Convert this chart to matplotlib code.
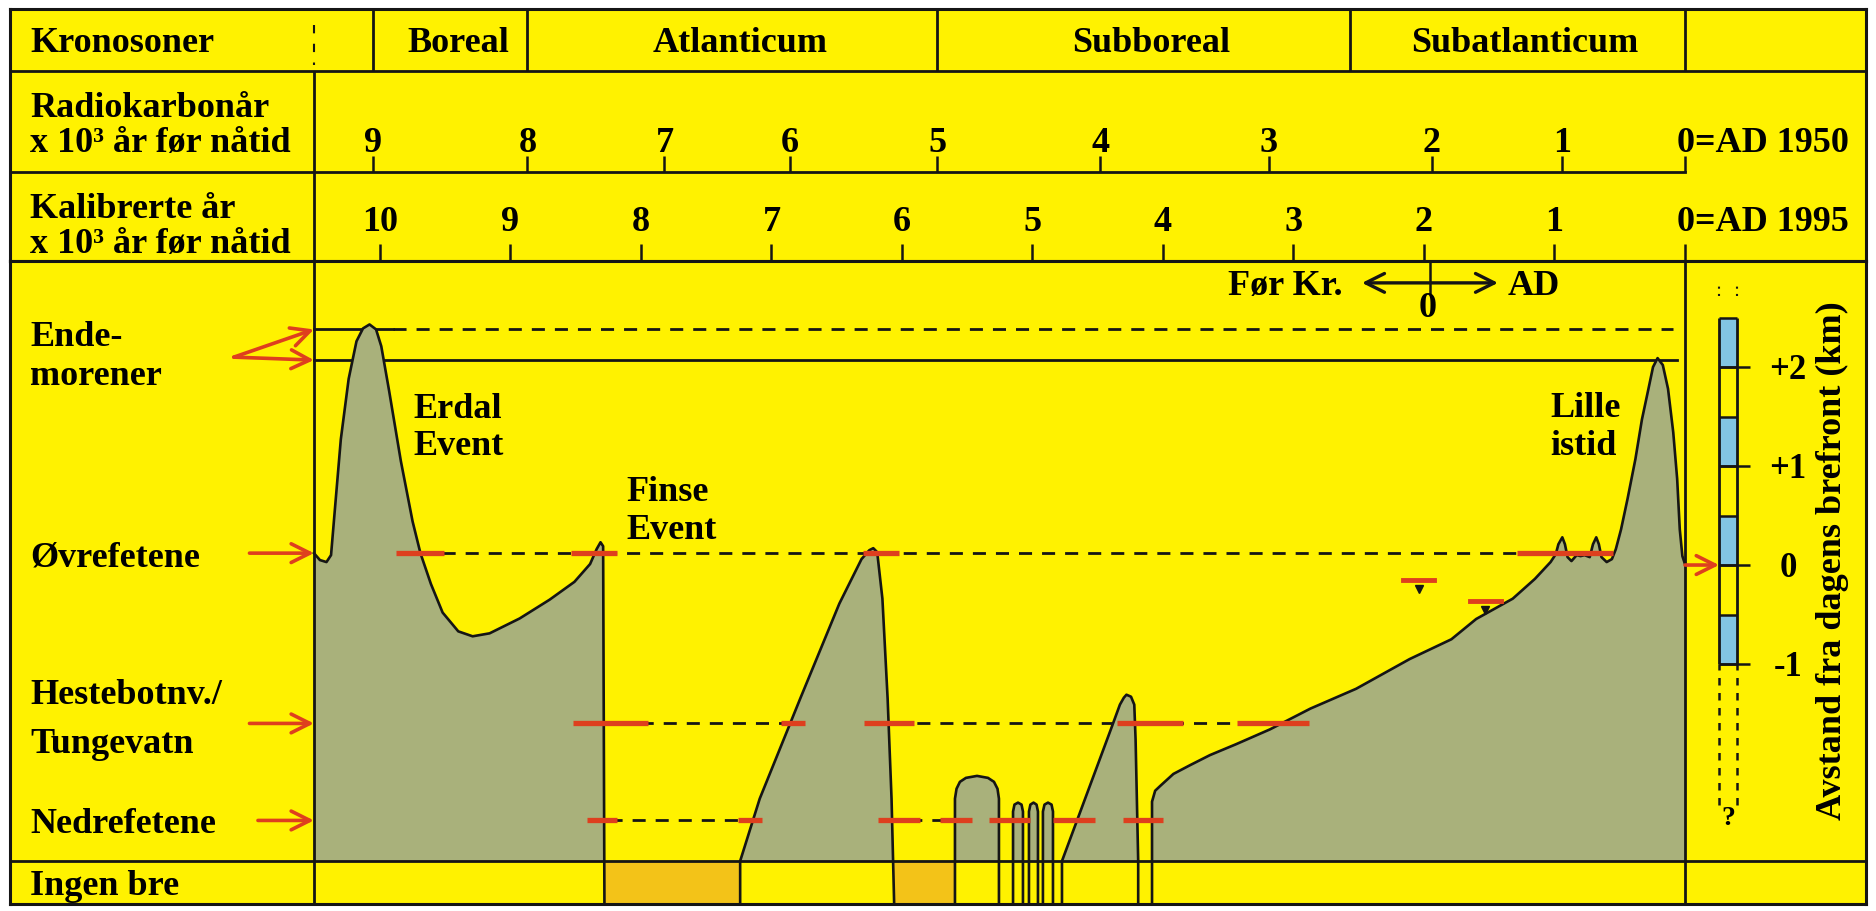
import matplotlib
matplotlib.use('Agg')
import matplotlib.pyplot as plt
import numpy as np

plt.rcParams['font.family'] = ['Liberation Serif', 'DejaVu Serif']
plt.rcParams['font.weight'] = 'bold'
plt.rcParams['font.size'] = 26

YELLOW = '#FFF200'
GLACIER = '#A9B17B'
ORANGE = '#F3C318'
RED = '#DE3F1E'
BLUE = '#82C5E3'
INK = '#151515'

# header: chronozones, radiocarbon ages and calibrated ages (x axis = cal ka BP)
zone_names = ['Boreal', 'Atlanticum', 'Subboreal', 'Subatlanticum']
zone_edges = [10.05, 8.87, 5.73, 2.57, 0.0]
rc_labels = ['9', '8', '7', '6', '5', '4', '3', '2', '1']
rc_on_cal = [10.05, 8.87, 7.82, 6.86, 5.73, 4.48, 3.19, 1.94, 0.94]
cal_ticks = [10, 9, 8, 7, 6, 5, 4, 3, 2, 1]

# reference levels, km relative to today's glacier front
ENDE_HI, ENDE_LO = 2.38, 2.07
OVRE, HESTE, NEDRE = 0.12, -1.60, -2.58

# glacier front through time, one outline per advance
erdal_t = [10.506, 10.46, 10.41, 10.375, 10.345, 10.30, 10.24, 10.18, 10.13, 10.08,
           10.03, 9.99, 9.93, 9.84, 9.75, 9.69, 9.61, 9.52, 9.40, 9.29, 9.16, 8.93,
           8.70, 8.51, 8.39, 8.34, 8.31, 8.29, 8.28]
erdal_km = [0.12, 0.05, 0.03, 0.10, 0.57, 1.27, 1.88, 2.26, 2.39, 2.43,
            2.38, 2.21, 1.76, 1.05, 0.44, 0.12, -0.19, -0.48, -0.67, -0.72, -0.69, -0.54,
            -0.35, -0.17, 0.01, 0.16, 0.23, 0.19, -3.42]
mid_t = [7.24, 7.24, 7.09, 6.78, 6.48, 6.31, 6.25, 6.22, 6.19, 6.15, 6.11, 6.08, 6.06]
mid_km = [-3.42, -2.99, -2.36, -1.35, -0.39, 0.06, 0.15, 0.17, 0.13, -0.34, -1.35, -2.36, -3.42]
arch_t = [5.594, 5.594, 5.582, 5.556, 5.51, 5.425, 5.341, 5.295, 5.268, 5.257, 5.257]
arch_km = [-3.42, -2.36, -2.26, -2.19, -2.15, -2.13, -2.15, -2.19, -2.26, -2.36, -3.42]
spike1_t = [5.149, 5.149, 5.138, 5.111, 5.084, 5.073, 5.073]
spike2_t = [5.027, 5.027, 5.016, 4.992, 4.969, 4.958, 4.958]
spike3_t = [4.920, 4.920, 4.908, 4.881, 4.854, 4.843, 4.843]
spike_km = [-3.42, -2.49, -2.42, -2.40, -2.42, -2.49, -3.42]
sub_t = [4.774, 4.774, 4.391, 4.33, 4.30, 4.28, 4.245, 4.22, 4.21, 4.19, 4.19]
sub_km = [-3.42, -2.99, -1.63, -1.41, -1.34, -1.31, -1.33, -1.41, -1.76, -2.99, -3.42]
late_t = [4.084, 4.084, 4.06, 4.02, 3.92, 3.79, 3.64, 3.44, 3.18, 2.87,
          2.52, 2.11, 1.79, 1.60, 1.32, 1.15, 1.03, 0.99, 0.97, 0.94,
          0.92, 0.90, 0.87, 0.83, 0.80, 0.77, 0.73, 0.705, 0.68, 0.66,
          0.64, 0.60, 0.56, 0.53, 0.49, 0.44, 0.38, 0.33, 0.28, 0.245,
          0.21, 0.17, 0.13, 0.09, 0.06, 0.04, 0.02, 0.0]
late_km = [-3.42, -2.39, -2.28, -2.23, -2.11, -2.02, -1.92, -1.81, -1.66, -1.45,
           -1.25, -0.95, -0.75, -0.545, -0.34, -0.14, 0.03, 0.11, 0.21, 0.28,
           0.21, 0.08, 0.04, 0.10, 0.09, 0.10, 0.08, 0.21, 0.28, 0.21,
           0.08, 0.03, 0.06, 0.16, 0.36, 0.67, 1.07, 1.47, 1.78, 2.0,
           2.09, 2.02, 1.78, 1.34, 0.87, 0.36, 0.09, 0.01]

# periods with no glacier (Ingen bre)
nobre_start = [8.28, 6.06]
nobre_end = [7.24, 5.594]

# dated passages of each threshold (red bars)
ovre_red_start = [9.88, 8.54, 6.30, 1.29]
ovre_red_end = [9.51, 8.18, 6.02, 0.55]
heste_red_start = [8.52, 6.93, 6.29, 4.35, 3.43]
heste_red_end = [7.95, 6.74, 5.91, 3.85, 2.88]
nedre_red_start = [8.41, 7.26, 6.18, 5.71, 5.33, 4.84, 4.31]
nedre_red_end = [8.18, 7.07, 5.86, 5.46, 5.02, 4.52, 4.00]
marker_t = [2.04, 1.53]
marker_km = [-0.15, -0.36]

# km scale on the right
scale_ticks = [2, 1, 0, -1]
scale_labels = ['+2', '+1', '0', '-1']
scale_edges = [2.5, 2.0, 1.5, 1.0, 0.5, 0.0, -0.5, -1.0]

# layout (x in cal ka BP, y in km)
T_LEFT, T_RIGHT = 12.835, -1.387
T_AXIS = 10.506
T_TEXT = 12.68
PANEL_TOP, PANEL_BOT, ROW_BOT = 3.071, -2.99, -3.424
BAR_L, BAR_R, TICK_R, LAB_T = -0.261, -0.398, -0.50, -0.79

W, H = 1876, 912
fig = plt.figure(figsize=(W / 100, H / 100), dpi=100, facecolor='white')


def frac(x0, y0, x1, y1):
    return [x0 / W, 1 - y1 / H, (x1 - x0) / W, (y1 - y0) / H]


hd = fig.add_axes(frac(10, 10, 1866, 262))
ax = fig.add_axes(frac(10, 262, 1866, 905))
for a in (hd, ax):
    a.set_facecolor(YELLOW)
    a.set_xlim(T_LEFT, T_RIGHT)
    a.set_xticks([])
    a.set_yticks([])
    for s in a.spines.values():
        s.set_linewidth(2.2)
        s.set_color(INK)
hd.set_ylim(262, 10)
ax.set_ylim(ROW_BOT, PANEL_TOP)

# ---- header table
hd.axhline(72, color=INK, lw=2)
hd.plot([T_LEFT, 0], [173, 173], color=INK, lw=2)
hd.vlines([T_AXIS], 72, 262, color=INK, lw=2)
hd.plot([T_AXIS, T_AXIS], [26, 66], color=INK, lw=1.5, ls=(0, (4, 5)))
hd.vlines(zone_edges, 10, 72, color=INK, lw=2)
hd.text(T_TEXT, 52, 'Kronosoner', ha='left', va='baseline')
for name, a, b in zip(zone_names, zone_edges[:-1], zone_edges[1:]):
    hd.text((a + b) / 2 - 0.06, 52, name, ha='center', va='baseline')

hd.text(T_TEXT, 117, 'Radiokarbonår', ha='left', va='baseline')
hd.text(T_TEXT, 152, 'x 10³ år før nåtid', ha='left', va='baseline')
hd.vlines(rc_on_cal + [0.0], 157, 173, color=INK, lw=1.8)
for lab, t in zip(rc_labels, rc_on_cal):
    hd.text(t, 152, lab, ha='center', va='baseline')
hd.text(0.065, 152, '0=AD 1950', ha='left', va='baseline')

hd.text(T_TEXT, 218, 'Kalibrerte år', ha='left', va='baseline')
hd.text(T_TEXT, 253, 'x 10³ år før nåtid', ha='left', va='baseline')
hd.vlines(cal_ticks + [0], 245, 262, color=INK, lw=1.8)
for t in cal_ticks:
    hd.text(t, 231, str(t), ha='center', va='baseline')
hd.text(0.06, 231, '0=AD 1995', ha='left', va='baseline')

# ---- main panel frame
ax.vlines([T_AXIS, 0], ROW_BOT, PANEL_TOP, color=INK, lw=2, zorder=3)
ax.axhline(PANEL_BOT, color=INK, lw=2, zorder=3)

for a, b in zip(nobre_start, nobre_end):
    ax.fill_between([a, b], ROW_BOT, PANEL_BOT, color=ORANGE, lw=0, zorder=1.2)

# threshold lines
dash = (0, (4.7, 3.6))
ax.plot([T_AXIS, 9.9], [ENDE_HI] * 2, color=INK, lw=2, zorder=1.5)
ax.plot([9.9, 0.09], [ENDE_HI] * 2, color=INK, lw=2, ls=dash, zorder=1.5)
ax.plot([T_AXIS, 0.06], [ENDE_LO] * 2, color=INK, lw=2, zorder=1.5)
ax.plot([9.88, 0.55], [OVRE] * 2, color=INK, lw=2, ls=dash, zorder=1.5)
ax.plot([8.54, 2.87], [HESTE] * 2, color=INK, lw=2, ls=dash, zorder=1.5)
ax.plot([8.42, 4.0], [NEDRE] * 2, color=INK, lw=2, ls=dash, zorder=1.5)

# glacier advances
shapes = [(erdal_t, erdal_km), (mid_t, mid_km), (arch_t, arch_km),
          (spike1_t, spike_km), (spike2_t, spike_km), (spike3_t, spike_km),
          (sub_t, sub_km), (late_t, late_km)]
for t, km in shapes:
    t = np.asarray(t)
    km = np.asarray(km)
    ax.fill(np.r_[t[0], t, t[-1]], np.r_[PANEL_BOT, np.maximum(km, PANEL_BOT), PANEL_BOT],
            color=GLACIER, lw=0, zorder=2)
    ax.plot(t, km, color=INK, lw=1.9, zorder=3, solid_joinstyle='round')

# dated passages
for level, starts, ends in ((OVRE, ovre_red_start, ovre_red_end),
                            (HESTE, heste_red_start, heste_red_end),
                            (NEDRE, nedre_red_start, nedre_red_end)):
    ax.hlines([level] * len(starts), starts, ends, color=RED, lw=3.8, zorder=4)
for t, km in zip(marker_t, marker_km):
    ax.plot([t + 0.12, t - 0.12], [km, km], color=RED, lw=3.5, zorder=4)
    ax.plot(t, km - 0.09, marker='v', color=INK, ms=6, zorder=4)

# arrows pointing at the thresholds
arrow_red = dict(arrowstyle='->,head_length=0.9,head_width=0.45', color=RED, lw=2.6,
                 shrinkA=0, shrinkB=0, mutation_scale=15)
for level in (ENDE_HI, ENDE_LO):
    ax.annotate('', xy=(T_AXIS, level), xytext=(11.12, 2.10), arrowprops=arrow_red, zorder=4)
for level, tail in ((OVRE, 11.0), (HESTE, 11.0), (NEDRE, 10.935)):
    ax.annotate('', xy=(T_AXIS, level), xytext=(tail, level), arrowprops=arrow_red, zorder=4)
ax.annotate('', xy=(BAR_L, 0.0), xytext=(0.0, 0.0), arrowprops=arrow_red, zorder=4)

# left labels
ax.text(T_TEXT, 2.22, 'Ende-', ha='left', va='baseline')
ax.text(T_TEXT, 1.83, 'morener', ha='left', va='baseline')
ax.text(T_TEXT, 0.0, 'Øvrefetene', ha='left', va='baseline')
ax.text(T_TEXT, -1.394, 'Hestebotnv./', ha='left', va='baseline')
ax.text(T_TEXT, -1.889, 'Tungevatn', ha='left', va='baseline')
ax.text(T_TEXT, -2.697, 'Nedrefetene', ha='left', va='baseline')
ax.text(T_TEXT, -3.323, 'Ingen bre', ha='left', va='baseline')

# event labels
ax.text(9.74, 1.495, 'Erdal', ha='left', va='baseline')
ax.text(9.74, 1.121, 'Event', ha='left', va='baseline')
ax.text(8.115, 0.657, 'Finse', ha='left', va='baseline')
ax.text(8.115, 0.273, 'Event', ha='left', va='baseline')
ax.text(1.034, 1.505, 'Lille', ha='left', va='baseline')
ax.text(1.034, 1.121, 'istid', ha='left', va='baseline')

# BC / AD marker
ax.vlines(1.954, 2.74, PANEL_TOP, color=INK, lw=1.8)
ax.annotate('', xy=(2.475, 2.85), xytext=(1.433, 2.85),
            arrowprops=dict(arrowstyle='<->,head_length=0.9,head_width=0.45', color=INK,
                            lw=2.4, shrinkA=0, shrinkB=0, mutation_scale=15))
ax.text(2.62, 2.737, 'Før Kr.', ha='right', va='baseline')
ax.text(1.356, 2.737, 'AD', ha='left', va='baseline')
ax.text(1.969, 2.515, '0', ha='center', va='baseline')

# km scale
for i, (hi, lo) in enumerate(zip(scale_edges[:-1], scale_edges[1:])):
    if i % 2 == 0:
        ax.fill_betweenx([lo, hi], BAR_L, BAR_R, color=BLUE, lw=0, zorder=2)
ax.vlines([BAR_L, BAR_R], -1.0, 2.5, color=INK, lw=2, zorder=3)
ax.hlines(scale_edges, BAR_L, BAR_R, color=INK, lw=1.8, zorder=3)
ax.hlines(scale_ticks, BAR_L, TICK_R, color=INK, lw=1.8, zorder=3)
ax.vlines([BAR_L, BAR_R], -2.42, -1.0, color=INK, lw=1.8, ls=(0, (3, 3)), zorder=3)
ax.vlines([BAR_L, BAR_R], 2.72, 2.86, color=INK, lw=1.5, ls=(0, (1, 2.5)), zorder=3)
ax.text((BAR_L + BAR_R) / 2, -2.55, '?', ha='center', va='center', fontsize=20)
for v, lab in zip(scale_ticks, scale_labels):
    ax.text(LAB_T, v - 0.115, lab, ha='center', va='baseline', fontsize=25)
ax.text(-1.134, 0.05, 'Avstand fra dagens brefront (km)', rotation=90,
        ha='center', va='center')

fig.savefig('out.png', dpi=100, facecolor='white')
